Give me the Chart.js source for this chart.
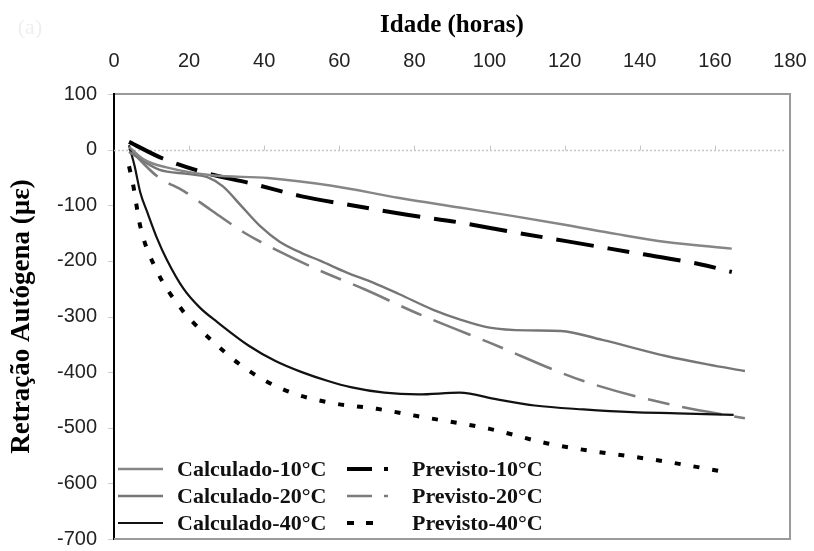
<!DOCTYPE html>
<html>
<head>
<meta charset="utf-8">
<script src="https://cdn.jsdelivr.net/npm/chart.js"></script>
<style>
  html, body { margin: 0; padding: 0; background: #fff; }
</style>
</head>
<body>
<canvas id="chart" width="814" height="551"></canvas>
<script>
// Idade (horas) / Retração autógena (µε)
const calc10Hours  = [4, 8, 14, 26, 41, 58, 76, 92, 106, 120, 134, 147, 164.5];
const calc10Values = [5, -18, -32, -46, -51, -65, -87, -104, -119, -135, -152, -166, -178];

const calc20Hours  = [4, 12, 20, 25, 29, 34, 39, 44, 50, 55, 62, 69, 76, 85, 92, 100, 110, 119, 130, 147, 158, 168];
const calc20Values = [-4, -36, -44, -50, -66, -102, -138, -165, -186, -200, -221, -239, -260, -288, -305, -320, -325, -326, -342, -371, -386, -398];

const calc40Hours  = [4, 5.5, 7, 9, 11.5, 14, 18.5, 23, 27.5, 36, 43, 50, 57, 63, 72, 81, 92, 102, 112, 125, 138, 150, 165];
const calc40Values = [8, -30, -77, -115, -160, -197, -250, -285, -310, -353, -380, -400, -416, -427, -437, -440, -437, -449, -460, -467, -472, -474, -477];

const prev10Hours  = [4, 13, 25, 36, 50, 64, 78, 92, 106, 120, 138, 156, 164.5];
const prev10Values = [14, -16, -43, -60, -84, -101, -117, -131, -148, -164, -185, -206, -220];

const prev20Hours  = [4, 11.5, 18.7, 25.7, 34.6, 44, 54, 67, 81, 100, 125, 150, 168];
const prev20Values = [2, -48, -75, -108, -149, -183, -215, -252, -295, -347, -416, -461, -483];

const prev40Hours  = [4, 5, 7, 11.5, 18, 21, 25.7, 34.5, 45, 56.7, 70, 80.7, 100, 116, 147, 164];
const prev40Values = [-30, -60, -138, -219, -287, -310, -341, -391, -431, -454, -466, -479, -502, -529, -561, -581];

const seriesLabels = ['Calculado-10°C', 'Calculado-20°C', 'Calculado-40°C',
                      'Previsto-10°C', 'Previsto-20°C', 'Previsto-40°C'];

const toPoints = (hours, values) => hours.map((h, i) => ({ x: h, y: values[i] }));

const serif = '"Liberation Serif", "Times New Roman", serif';
const sans = '"Liberation Sans", Arial, sans-serif';

const line = (label, data, color, width, dash, legendDash) => ({
  label, data,
  borderColor: color,
  borderWidth: width,
  borderDash: dash,
  legendDash: legendDash,
  pointRadius: 0,
  fill: false,
  cubicInterpolationMode: 'monotone',
  borderJoinStyle: 'round'
});

const datasets = [
  line(seriesLabels[0], toPoints(calc10Hours, calc10Values), '#868686', 2.4, [], []),
  line(seriesLabels[1], toPoints(calc20Hours, calc20Values), '#767676', 2.4, [], []),
  line(seriesLabels[2], toPoints(calc40Hours, calc40Values), '#111111', 2.2, [], []),
  line(seriesLabels[3], toPoints(prev10Hours, prev10Values), '#000000', 4, [38, 14, 22, 14], [25, 12, 4, 100]),
  line(seriesLabels[4], toPoints(prev20Hours, prev20Values), '#7c7c7c', 2.6, [40, 13, 22, 13], [25, 12, 4, 100]),
  line(seriesLabels[5], toPoints(prev40Hours, prev40Values), '#000000', 4, [6, 13], [7, 12, 7, 100])
];

// zero line with small ticks, y tick marks, frame, in-plot legend
const decor = {
  id: 'decor',
  beforeDatasetsDraw(chart) {
    const { ctx, chartArea: a, scales: { x, y } } = chart;
    const y0 = Math.round(y.getPixelForValue(0)) + 0.5;
    ctx.save();
    ctx.strokeStyle = '#c6c6c6';
    ctx.lineWidth = 1.5;
    ctx.setLineDash([2, 2]);
    ctx.beginPath();
    ctx.moveTo(a.left, y0);
    ctx.lineTo(a.right - 6, y0);
    ctx.stroke();
    ctx.setLineDash([]);
    ctx.lineWidth = 1;
    x.ticks.forEach(t => {
      if (t.value <= 0 || t.value >= 180) return;
      const px = Math.round(x.getPixelForValue(t.value)) + 0.5;
      ctx.beginPath();
      ctx.moveTo(px, y0);
      ctx.lineTo(px, y0 - 5);
      ctx.stroke();
    });
    ctx.strokeStyle = '#cccccc';
    y.ticks.forEach(t => {
      const py = Math.round(y.getPixelForValue(t.value)) + 0.5;
      ctx.beginPath();
      ctx.moveTo(a.left - 6, py);
      ctx.lineTo(a.left - 1, py);
      ctx.stroke();
    });
    ctx.restore();
  },
  afterDatasetsDraw(chart) {
    const { ctx, chartArea: a } = chart;
    ctx.save();
    // right and bottom frame
    ctx.strokeStyle = '#9a9a9a';
    ctx.lineWidth = 2;
    ctx.beginPath();
    ctx.moveTo(a.right, a.top);
    ctx.lineTo(a.right, a.bottom);
    ctx.lineTo(a.left, a.bottom);
    ctx.stroke();

    // legend
    ctx.fillStyle = '#ffffff';
    ctx.fillRect(a.left + 2, a.bottom - 86, 450, 85);
    ctx.font = 'bold 22px ' + serif;
    ctx.textBaseline = 'middle';
    ctx.textAlign = 'left';
    chart.data.datasets.forEach((ds, i) => {
      const col = Math.floor(i / 3), row = i % 3;
      const ly = a.bottom - 70 + row * 27;
      const sx = col === 0 ? a.left + 4 : a.left + 233;
      const sw = col === 0 ? 45 : 44;
      const tx = col === 0 ? a.left + 63 : a.left + 298;
      ctx.strokeStyle = ds.borderColor;
      ctx.lineWidth = ds.borderWidth;
      ctx.setLineDash(ds.legendDash);
      ctx.beginPath();
      ctx.moveTo(sx, ly);
      ctx.lineTo(sx + sw, ly);
      ctx.stroke();
      ctx.setLineDash([]);
      ctx.fillStyle = '#111111';
      ctx.fillText(ds.label, tx, ly + 1);
    });

    // faint panel mark in the corner
    ctx.font = '22px ' + serif;
    ctx.fillStyle = '#efefef';
    ctx.textAlign = 'center';
    ctx.fillText('(a)', 30, 28);
    ctx.restore();
  }
};

new Chart(document.getElementById('chart'), {
  type: 'line',
  data: { datasets },
  plugins: [decor],
  options: {
    responsive: false,
    devicePixelRatio: 1,
    animation: false,
    layout: { padding: { left: 0, top: 0, right: 24, bottom: 11 } },
    plugins: { legend: { display: false }, tooltip: { enabled: false } },
    scales: {
      x: {
        type: 'linear',
        position: 'top',
        min: 0,
        max: 180,
        ticks: { stepSize: 20, padding: 0, color: '#222', font: { family: sans, size: 20 } },
        grid: { display: true, drawOnChartArea: false, drawTicks: true, tickLength: 21, tickColor: 'rgba(0,0,0,0)' },
        border: { display: true, color: '#9a9a9a', width: 2 },
        title: {
          display: true,
          text: 'Idade (horas)',
          color: '#000',
          font: { family: serif, size: 25, weight: 'bold' },
          padding: { top: 11, bottom: 0 }
        },
        afterFit: s => { s.height = 94; }
      },
      y: {
        type: 'linear',
        min: -700,
        max: 100,
        ticks: { stepSize: 100, padding: 0, color: '#222', font: { family: sans, size: 20 } },
        grid: { display: true, drawOnChartArea: false, drawTicks: true, tickLength: 17, tickColor: 'rgba(0,0,0,0)' },
        border: { display: true, color: '#000', width: 2 },
        title: {
          display: true,
          text: 'Retração Autógena (µε)',
          color: '#000',
          font: { family: serif, size: 27, weight: 'bold' },
          padding: { top: 6, bottom: 0 }
        },
        afterFit: s => { s.width = 114; }
      }
    }
  }
});
</script>
</body>
</html>
